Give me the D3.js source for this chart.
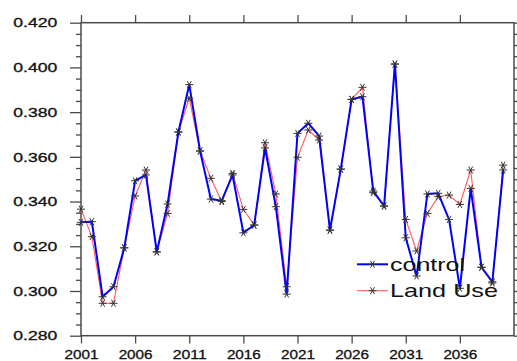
<!DOCTYPE html>
<html><head><meta charset="utf-8">
<script src="https://cdn.jsdelivr.net/npm/d3@7"></script>
<style>body{margin:0;background:#fff;} svg{display:block;}</style>
</head><body><svg id="c" width="517" height="361"></svg>
<script>
const years = [2001,2002,2003,2004,2005,2006,2007,2008,2009,2010,2011,2012,2013,2014,2015,2016,2017,2018,2019,2020,
               2021,2022,2023,2024,2025,2026,2027,2028,2029,2030,2031,2032,2033,2034,2035,2036,2037,2038,2039,2040];
const control = [0.3307,0.3310,0.2974,0.3019,0.3193,0.3493,0.3519,0.3175,0.3389,0.3711,0.3923,0.3626,0.3411,0.3404,0.3519,0.3260,0.3295,0.3640,0.3377,0.2986,
                 0.3705,0.3750,0.3693,0.3272,0.3545,0.3857,0.3869,0.3447,0.3380,0.4015,0.3238,0.3067,0.3434,0.3437,0.3320,0.3012,0.3459,0.3106,0.3041,0.3541];
const landUse = [0.3366,0.3243,0.2945,0.2945,0.3193,0.3425,0.3541,0.3175,0.3347,0.3711,0.3862,0.3626,0.3504,0.3400,0.3526,0.3365,0.3295,0.3663,0.3434,0.3019,
                 0.3598,0.3720,0.3675,0.3272,0.3545,0.3857,0.3911,0.3440,0.3380,0.4015,0.3320,0.3179,0.3347,0.3422,0.3429,0.3387,0.3541,0.3106,0.3036,0.3563];
const xTickYears = [2001,2006,2011,2016,2021,2026,2031,2036];
const yMajor = [0.28,0.30,0.32,0.34,0.36,0.38,0.40,0.42];
const yMinor = [0.285,0.29,0.295,0.305,0.31,0.315,0.325,0.33,0.335,0.345,0.35,0.355,0.365,0.37,0.375,0.385,0.39,0.395,0.405,0.41,0.415];
const seriesNames = ["control","Land Use"];

const L = 81, R = 514, T = 22.7, B = 335.7;
const svg = d3.select("#c");
const x = d3.scaleLinear().domain([2001, 2041]).range([L, R]);
const y = d3.scaleLinear().domain([0.28, 0.42]).range([B, T]);
const axisColor = "#4a4a4a";
const font = "'Liberation Sans', Arial, Helvetica, sans-serif";

function styleAxis(g){
  g.select(".domain").remove();
  g.selectAll("line").attr("stroke", axisColor).attr("stroke-width", 1.3);
}
svg.append("g").attr("transform",`translate(${L},0)`)
  .call(d3.axisLeft(y).tickValues(yMinor).tickSize(5).tickFormat(""))
  .call(styleAxis);
svg.append("g").attr("transform",`translate(${R},0)`)
  .call(d3.axisRight(y).tickValues(yMinor).tickSize(5).tickFormat(""))
  .call(styleAxis);
const gl = svg.append("g").attr("transform",`translate(${L},0)`)
  .call(d3.axisLeft(y).tickValues(yMajor).tickSize(11).tickFormat(d3.format(".3f")))
  .call(styleAxis);
gl.selectAll("text").attr("x", -23.7).attr("dy","0.35em")
  .attr("font-family", font).attr("font-size", 12).attr("fill","#111")
  .attr("stroke","#111").attr("stroke-width",0.3)
  .attr("textLength", 44).attr("lengthAdjust","spacingAndGlyphs");
svg.append("g").attr("transform",`translate(${R},0)`)
  .call(d3.axisRight(y).tickValues(yMajor).tickSize(11).tickFormat(""))
  .call(styleAxis);
const gb = svg.append("g").attr("transform",`translate(0,${B})`)
  .call(d3.axisBottom(x).tickValues(xTickYears).tickSize(7.7).tickFormat(d3.format("d")))
  .call(styleAxis);
gb.selectAll("text").attr("y", 23.6).attr("dy", 0)
  .attr("font-family", font).attr("font-size", 12).attr("fill","#111")
  .attr("stroke","#111").attr("stroke-width",0.3)
  .attr("textLength", 34).attr("lengthAdjust","spacingAndGlyphs");
svg.append("g").attr("transform",`translate(0,${T})`)
  .call(d3.axisTop(x).tickValues(xTickYears).tickSize(7.7).tickFormat(""))
  .call(styleAxis);
svg.append("rect").attr("x",L).attr("y",T).attr("width",R-L).attr("height",B-T)
  .attr("fill","none").attr("stroke",axisColor).attr("stroke-width",1.5);

const line = d3.line().x((d,i)=>x(years[i])).y(d=>y(d));
svg.append("path").datum(landUse).attr("d", line).attr("fill","none")
  .attr("stroke","#ff5a5a").attr("stroke-width",1.1);
svg.append("path").datum(control).attr("d", line).attr("fill","none")
  .attr("stroke","#0000ff").attr("stroke-width",2);

const star = d3.symbol().type(d3.symbolAsterisk).size(45);
function markers(data){
  svg.append("g").selectAll("path").data(data).join("path")
    .attr("d", star)
    .attr("transform",(d,i)=>`translate(${x(years[i])},${y(d)}) rotate(90)`)
    .attr("fill","none").attr("stroke","#333").attr("stroke-width",1);
}
markers(landUse);
markers(control);

const leg = [{name:seriesNames[0], color:"#0000ff", w:2, y:264.3, len:75},
             {name:seriesNames[1], color:"#ff5a5a", w:1.1, y:290.7, len:108}];
const lg = svg.append("g");
leg.forEach(d=>{
  lg.append("line").attr("x1",357).attr("x2",388).attr("y1",d.y).attr("y2",d.y)
    .attr("stroke",d.color).attr("stroke-width",d.w);
  lg.append("path").attr("d",star).attr("transform",`translate(372.5,${d.y}) rotate(90)`)
    .attr("fill","none").attr("stroke","#333").attr("stroke-width",1);
  lg.append("text").attr("x",390).attr("y",d.y+6.4).text(d.name)
    .attr("font-family",font).attr("font-size",18.5).attr("fill","#111")
    .attr("textLength",d.len).attr("lengthAdjust","spacingAndGlyphs");
});
</script></body></html>
